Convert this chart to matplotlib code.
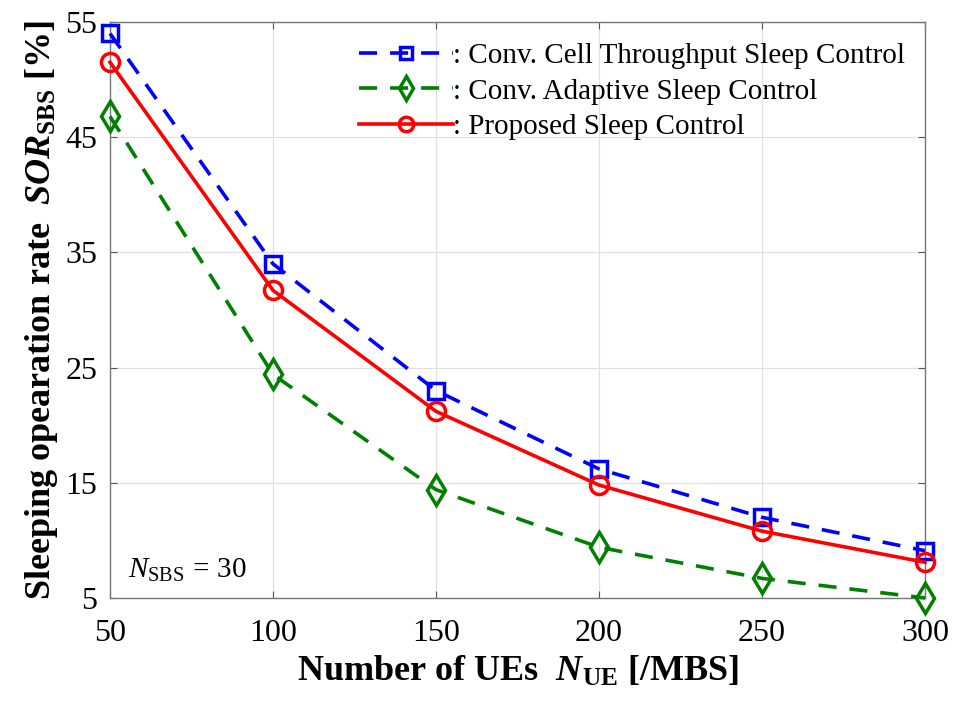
import matplotlib
matplotlib.use("Agg")
import matplotlib.pyplot as plt

plt.rcParams['font.family'] = ['Liberation Serif', 'DejaVu Serif']
plt.rcParams['mathtext.fontset'] = 'custom'
plt.rcParams['mathtext.rm'] = 'Liberation Serif'
plt.rcParams['mathtext.it'] = 'Liberation Serif:italic'
plt.rcParams['mathtext.bf'] = 'Liberation Serif:bold'
plt.rcParams['mathtext.bfit'] = 'Liberation Serif:italic:bold'

n_ue = [50, 100, 150, 200, 250, 300]
conv_cell = [54.0, 34.0, 23.0, 16.2, 12.0, 9.1]
conv_adaptive = [46.8, 24.4, 14.4, 9.4, 6.7, 5.0]
proposed = [51.5, 31.7, 21.2, 14.8, 10.8, 8.1]

labels = [': Conv. Cell Throughput Sleep Control',
          ': Conv. Adaptive Sleep Control',
          ': Proposed Sleep Control']

xticks = [50, 100, 150, 200, 250, 300]
yticks = [5, 15, 25, 35, 45, 55]

fig = plt.figure(figsize=(9.55, 7.02), dpi=100)
ax = fig.add_axes([0.1152, 0.1482, 0.8534, 0.8205])

lw = 2.6
ax.plot(n_ue, conv_cell, color='#0000ff', lw=lw, linestyle=(0, (5, 3.6)),
        marker='s', ms=11.5, mfc='none', mew=2.5, label=labels[0],
        clip_on=False, zorder=3)
ax.plot(n_ue, conv_adaptive, color='#008000', lw=lw, linestyle=(0, (5, 3.6)),
        marker='d', ms=15, mfc='none', mew=2.5, label=labels[1],
        clip_on=False, zorder=3)
ax.plot(n_ue, proposed, color='#ff0000', lw=lw, linestyle='-',
        marker='o', ms=13, mfc='none', mew=2.5, label=labels[2],
        clip_on=False, zorder=3)

ax.set_xlim(50, 300)
ax.set_ylim(5, 55)
ax.set_xticks(xticks)
ax.set_yticks(yticks)
ax.tick_params(direction='in', top=True, right=True, labelsize=23, length=5,
               color='#555555')
ax.tick_params(axis='x', pad=15)
ax.tick_params(axis='y', pad=9)
ax.grid(True, color='#e0e0e0', lw=0.9)
for s in ax.spines.values():
    s.set_color('#777777')
    s.set_linewidth(1.0)

ax.set_xlabel(r'Number of UEs  $\boldsymbol{N}_{\mathbf{UE}}$ [/MBS]',
              fontsize=26, fontweight='bold', labelpad=5)
ax.set_ylabel(r'Sleeping opearation rate  $\boldsymbol{SOR}_{\mathbf{SBS}}$ [%]',
              fontsize=26, fontweight='bold', labelpad=4)

ax.text(0.022, 0.025, r'$N_{\mathrm{SBS}}\,=\,30$', transform=ax.transAxes,
        fontsize=21, ha='left', va='bottom')

leg = ax.legend(loc='upper right', frameon=False, fontsize=21,
                handlelength=3.2, handletextpad=0.0, labelspacing=0.32,
                borderaxespad=0.3, markerscale=0.8)

fig.savefig('out.png', dpi=100)
